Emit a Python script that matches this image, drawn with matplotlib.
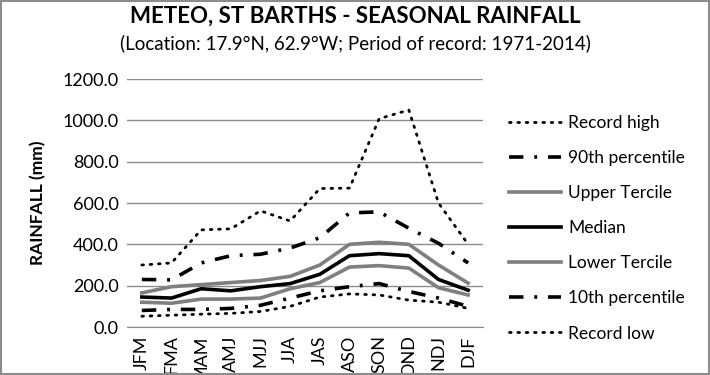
import matplotlib.pyplot as plt
import numpy as np

plt.rcParams['font.family'] = ['Lato', 'DejaVu Sans']

seasons = ['JFM', 'FMA', 'MAM', 'AMJ', 'MJJ', 'JJA', 'JAS', 'ASO', 'SON', 'OND', 'NDJ', 'DJF']
record_high = [300, 310, 470, 475, 562, 513, 670, 672, 1008, 1050, 600, 400]
p90 = [230, 228, 310, 345, 352, 382, 432, 552, 557, 478, 405, 310]
upper_tercile = [165, 195, 205, 215, 225, 245, 300, 400, 410, 400, 300, 212]
median = [145, 140, 185, 175, 195, 210, 255, 345, 355, 345, 230, 178]
lower_tercile = [120, 115, 135, 135, 140, 185, 215, 290, 297, 285, 190, 155]
p10 = [80, 85, 85, 90, 105, 140, 175, 195, 210, 172, 140, 100]
record_low = [52, 57, 62, 66, 75, 100, 145, 160, 155, 130, 120, 90]

fig = plt.figure(figsize=(7.1, 3.75), dpi=100)
ax = fig.add_axes([127/710, 48/375, 356/710, 248/375])

x = np.arange(len(seasons))
dashdot = (0, (4, 3, 0.8, 3))
dotted = (0, (0.6, 2.4))
ax.plot(x, record_high, color='black', lw=2, ls=dotted, dash_capstyle='round', label='Record high')
ax.plot(x, p90, color='black', lw=2.6, ls=dashdot, label='90th percentile')
ax.plot(x, upper_tercile, color='#7f7f7f', lw=2.6, label='Upper Tercile')
ax.plot(x, median, color='black', lw=2.6, label='Median')
ax.plot(x, lower_tercile, color='#7f7f7f', lw=2.6, label='Lower Tercile')
ax.plot(x, p10, color='black', lw=2.6, ls=dashdot, label='10th percentile')
ax.plot(x, record_low, color='black', lw=2, ls=dotted, dash_capstyle='round', label='Record low')

ax.set_xlim(-0.5, len(seasons) - 0.5)
ax.set_ylim(0, 1200)
ax.set_yticks(np.arange(0, 1201, 200))
ax.set_yticklabels(['{:.1f}'.format(v) for v in np.arange(0, 1201, 200)], fontsize=13)
ax.set_xticks(x)
ax.set_xticklabels(seasons, rotation=90, fontsize=13)
ax.tick_params(length=0, pad=6)
ax.grid(axis='y', color='#8c8c8c', lw=1)
ax.set_axisbelow(True)
for side in ['top', 'right', 'left']:
    ax.spines[side].set_visible(False)
ax.spines['bottom'].set_color('#8c8c8c')

ax.set_ylabel('RAINFALL (mm)', fontsize=12.5, fontweight='bold', labelpad=12)

fig.text(0.5, 0.957, 'METEO, ST BARTHS - SEASONAL RAINFALL', ha='center', va='center',
         fontsize=16, fontweight='bold')
fig.text(0.5, 0.885, '(Location: 17.9°N, 62.9°W; Period of record: 1971-2014)', ha='center',
         va='center', fontsize=13.5)

ax.legend(loc='upper left', bbox_to_anchor=(502/356 - 127/356, 1 - 29/248), frameon=False,
          fontsize=12.5, handlelength=3.0, labelspacing=1.1, handletextpad=0.4,
          borderaxespad=0)

fig.patches.append(plt.Rectangle((0.002, 0.003), 0.996, 0.994, transform=fig.transFigure,
                                 fill=False, edgecolor='#8c8c8c', lw=1.5))

fig.savefig('out.png', dpi=100)
